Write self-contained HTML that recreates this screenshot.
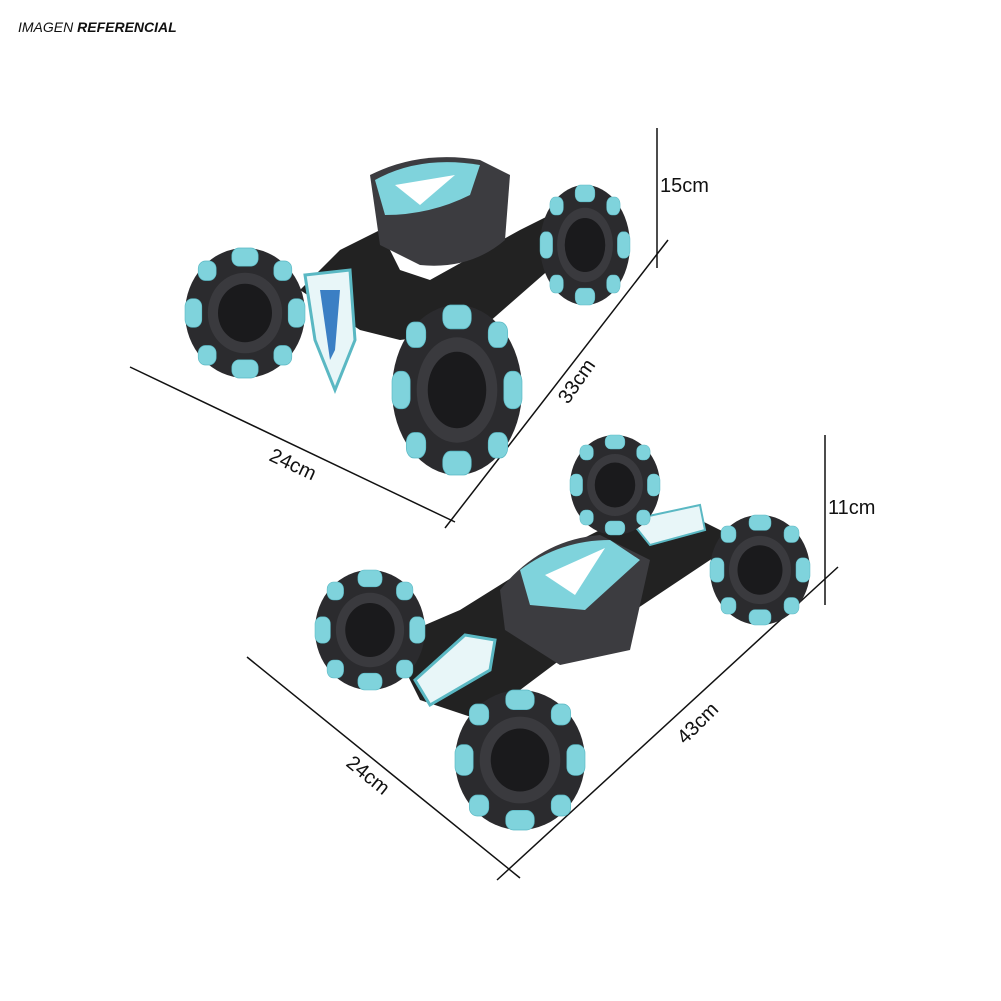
<!DOCTYPE html>
<html><head><meta charset="utf-8"><style>
html,body{margin:0;padding:0;background:#fff;}
svg{display:block}
text{font-family:"Liberation Sans",sans-serif;}
</style></head><body>
<svg width="1001" height="1001" viewBox="0 0 1001 1001" xmlns="http://www.w3.org/2000/svg">
<defs>
<g id="wheel">
  <ellipse cx="0" cy="0" rx="1" ry="1" fill="#2b2b2e"/>
  <g fill="#7fd3dc" stroke="#5ab8c3" stroke-width="0.01">
    <rect x="-0.22" y="-1.0" width="0.44" height="0.28" rx="0.12"/>
    <rect x="-0.22" y="0.72" width="0.44" height="0.28" rx="0.12"/>
    <rect x="-1.0" y="-0.22" width="0.28" height="0.44" rx="0.12"/>
    <rect x="0.72" y="-0.22" width="0.28" height="0.44" rx="0.12"/>
    <rect x="-0.78" y="-0.8" width="0.3" height="0.3" rx="0.12"/>
    <rect x="0.48" y="-0.8" width="0.3" height="0.3" rx="0.12"/>
    <rect x="-0.78" y="0.5" width="0.3" height="0.3" rx="0.12"/>
    <rect x="0.48" y="0.5" width="0.3" height="0.3" rx="0.12"/>
  </g>
  <ellipse cx="0" cy="0" rx="0.62" ry="0.62" fill="#3a3a3e"/>
  <ellipse cx="0" cy="0" rx="0.45" ry="0.45" fill="#1a1a1c"/>
</g>
</defs>
<rect width="1001" height="1001" fill="#fff"/>
<text x="18" y="32" font-size="14" font-style="italic" fill="#111">IMAGEN <tspan font-weight="bold">REFERENCIAL</tspan></text>

<!-- dimension lines top -->
<g stroke="#111" stroke-width="1.5" fill="none">
<line x1="657" y1="128" x2="657" y2="268"/>
<line x1="668" y1="240" x2="445" y2="528"/>
<line x1="130" y1="367" x2="455" y2="522"/>
<line x1="825" y1="435" x2="825" y2="605"/>
<line x1="838" y1="567" x2="497" y2="880"/>
<line x1="247" y1="657" x2="520" y2="878"/>
</g>
<g font-size="20" fill="#111">
<text x="660" y="192">15cm</text>
<text x="828" y="514">11cm</text>
<text transform="translate(268,460) rotate(25)">24cm</text>
<text transform="translate(568,405) rotate(-55)">33cm</text>
<text transform="translate(345,765) rotate(39)">24cm</text>
<text transform="translate(685,745) rotate(-45)">43cm</text>
</g>

<!-- top car -->
<path d="M300,290 L340,250 L380,230 L400,270 L430,280 L520,230 L560,210 L560,260 L480,330 L400,340 L360,330 Z" fill="#222"/>
<path d="M370,175 Q420,150 480,160 L510,175 L505,240 Q470,270 420,265 L380,245 Z" fill="#3c3c40"/>
<path d="M375,180 Q420,155 480,165 L470,195 Q430,215 385,215 Z" fill="#7fd3dc"/>
<path d="M395,185 L455,175 L420,205 Z" fill="#fff"/>
<path d="M305,275 L350,270 L355,340 L335,390 L315,340 Z" fill="#e8f6f8" stroke="#5ab8c3" stroke-width="3"/>
<path d="M320,290 L340,290 L335,350 L330,360 Z" fill="#3b7fc4"/>
<use href="#wheel" transform="translate(245,313) scale(60,65)"/>
<use href="#wheel" transform="translate(585,245) scale(45,60)"/>
<use href="#wheel" transform="translate(457,390) scale(65,85)"/>

<!-- bottom car -->
<path d="M390,640 L460,610 L540,560 L620,520 L700,520 L740,540 L650,600 L560,660 L480,720 L420,700 Z" fill="#222"/>
<path d="M500,590 Q540,540 600,535 L650,560 L630,650 L560,665 L505,630 Z" fill="#3c3c40"/>
<path d="M520,570 Q560,540 610,540 L640,560 L585,610 L530,605 Z" fill="#7fd3dc"/>
<path d="M545,575 L605,548 L575,595 Z" fill="#fff"/>
<path d="M630,520 L700,505 L705,530 L650,545 Z" fill="#e8f6f8" stroke="#5ab8c3" stroke-width="2"/>
<path d="M415,680 L465,635 L495,640 L490,670 L430,705 Z" fill="#e8f6f8" stroke="#5ab8c3" stroke-width="3"/>
<use href="#wheel" transform="translate(615,485) scale(45,50)"/>
<use href="#wheel" transform="translate(760,570) scale(50,55)"/>
<use href="#wheel" transform="translate(370,630) scale(55,60)"/>
<use href="#wheel" transform="translate(520,760) scale(65,70)"/>
</svg>
</body></html>
